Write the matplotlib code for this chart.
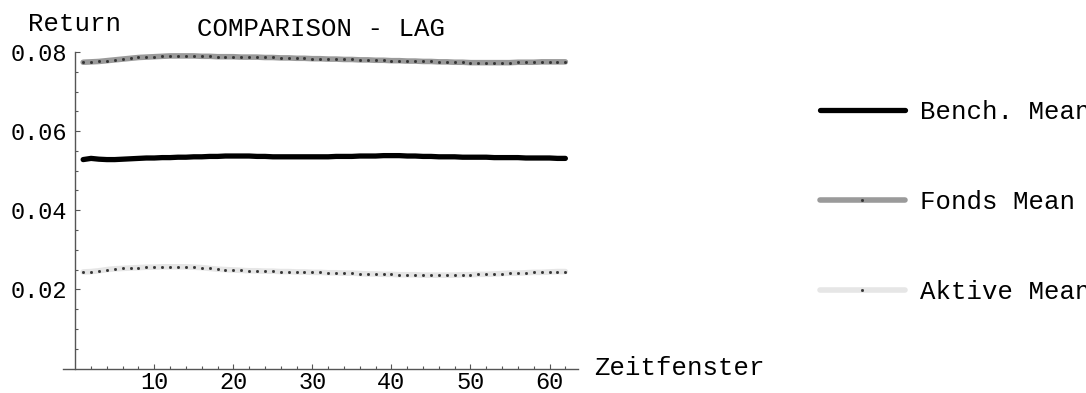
import numpy as np
import matplotlib
matplotlib.use("Agg")
import matplotlib.pyplot as plt

plt.rcParams['font.family'] = ['Liberation Mono', 'DejaVu Sans Mono']

# Zeitfenster 1..62
lag = np.arange(1, 63)

bench_mean = [
    .0528, .0531, .0529, .0528, .0528, .0529, .0530, .0531, .0532, .0532,
    .0533, .0533, .0534, .0534, .0535, .0535, .0536, .0536, .0537, .0537,
    .0537, .0537, .0536, .0536, .0535, .0535, .0535, .0535, .0535, .0535,
    .0535, .0535, .0536, .0536, .0536, .0537, .0537, .0537, .0538, .0538,
    .0538, .0537, .0537, .0536, .0536, .0535, .0535, .0535, .0534, .0534,
    .0534, .0534, .0533, .0533, .0533, .0533, .0532, .0532, .0532, .0532,
    .0531, .0531]

fonds_mean = [
    .0774, .0775, .0776, .0778, .0780, .0782, .0784, .0786, .0787, .0788,
    .0789, .0790, .0790, .0790, .0790, .0789, .0789, .0788, .0788, .0788,
    .0787, .0787, .0787, .0786, .0786, .0785, .0785, .0784, .0784, .0783,
    .0783, .0782, .0782, .0781, .0781, .0780, .0780, .0779, .0779, .0778,
    .0778, .0777, .0777, .0776, .0776, .0775, .0775, .0774, .0774, .0773,
    .0773, .0773, .0773, .0773, .0773, .0774, .0774, .0774, .0775, .0775,
    .0775, .0775]

aktive_mean = [
    .0244, .0245, .0247, .0250, .0252, .0253, .0254, .0255, .0256, .0256,
    .0257, .0257, .0257, .0257, .0256, .0255, .0253, .0251, .0250, .0249,
    .0248, .0247, .0247, .0246, .0246, .0245, .0245, .0244, .0244, .0243,
    .0243, .0242, .0242, .0241, .0241, .0240, .0239, .0239, .0238, .0238,
    .0237, .0237, .0237, .0236, .0236, .0236, .0236, .0236, .0237, .0237,
    .0238, .0238, .0239, .0240, .0241, .0241, .0242, .0243, .0243, .0244,
    .0245, .0245]

labels = ["Bench. Mean", "Fonds Mean", "Aktive Mean"]
yticks = [0.02, 0.04, 0.06, 0.08]
xticks = [10, 20, 30, 40, 50, 60]

W, H = 1086, 393
fig = plt.figure(figsize=(W / 100, H / 100), dpi=100)
# axes box in pixels: x -1.6..63.6 -> 62.6..578, y 0..0.081 -> 368.5..48
ax = fig.add_axes([62.6 / W, (H - 368.5) / H, 515.4 / W, 320.5 / H])
ax.set_xlim(-1.6, 63.6)
ax.set_ylim(0, 0.081)

fs = 18.5      # titles, legend
fs_tick = 17
axcol = '#555555'

ax.plot(lag, bench_mean, color='black', lw=3.8, solid_capstyle='round',
        label=labels[0])
ax.plot(lag, fonds_mean, color='#9a9a9a', lw=4.0, solid_capstyle='round',
        marker='s', ms=1.0, mfc='#333333', mec='#333333', label=labels[1])
ax.plot(lag, aktive_mean, color='#e6e6e6', lw=4.0, solid_capstyle='round',
        marker='s', ms=1.0, mfc='#333333', mec='#333333', label=labels[2])

for s in ['top', 'right']:
    ax.spines[s].set_visible(False)
ax.spines['left'].set_position(('data', 0))
ax.spines['left'].set_bounds(0, 0.08)
ax.spines['bottom'].set_position(('data', 0))
for s in ['left', 'bottom']:
    ax.spines[s].set_color(axcol)
    ax.spines[s].set_linewidth(1.0)

ax.set_xticks(xticks)
ax.set_xticks(np.arange(2, 63, 2), minor=True)
ax.set_yticks(yticks)
ax.set_yticks(np.arange(0.005, 0.08, 0.005), minor=True)
ax.set_yticklabels([f"{v:.2f}" for v in yticks])
ax.tick_params(which='both', direction='in', color=axcol, width=0.8,
               labelsize=fs_tick, labelcolor='black')
ax.tick_params(which='major', length=3.5)
ax.tick_params(which='minor', length=2)
ax.tick_params(axis='y', pad=6)
ax.tick_params(axis='x', pad=2)

fig.text(75 / W, 1 - 24 / H, "Return", ha='center', va='center', fontsize=fs)
fig.text(321 / W, 1 - 29 / H, "COMPARISON - LAG", ha='center', va='center',
         fontsize=fs)
fig.text(594 / W, 1 - 368 / H, "Zeitfenster", ha='left', va='center',
         fontsize=fs)

fig.legend(loc='center left', bbox_to_anchor=(820 / W, 1 - 202 / H),
           frameon=False, fontsize=fs, handlelength=3.3, handletextpad=0.6,
           labelspacing=2.55, borderpad=0, borderaxespad=0, numpoints=1)

fig.savefig("out.png", dpi=100)
